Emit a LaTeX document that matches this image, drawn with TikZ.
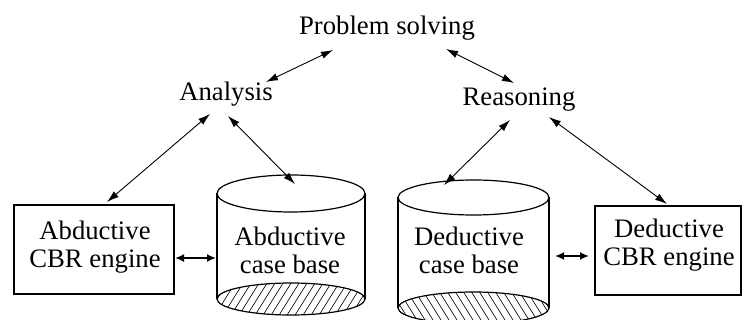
\documentclass[tikz,border=0pt]{standalone}
\usepackage{fontspec}
\setmainfont{Liberation Serif}
\usetikzlibrary{arrows.meta}
\begin{document}
\begin{tikzpicture}[x=1pt,y=-1pt,
  txt/.style={font=\fontsize{26.7}{28}\selectfont, align=center, inner sep=0pt},
  enginebox/.style={draw, line width=2pt},
  link/.style={line width=0.9pt, {Latex[length=12pt,width=7.5pt]}-{Latex[length=12pt,width=7.5pt]}},
  tight/.style={line width=2.4pt, {Latex[length=9pt,width=8pt]}-{Latex[length=9pt,width=8pt]}},
  drum/.style={line width=1.2pt},
  hatch/.style={line width=0.6pt}]
\useasboundingbox (0,0) rectangle (744,320);

% top-level labels
\node[txt] (ps)  at (387,28) {Problem solving};
\node[txt] (ana) at (226,94) {Analysis};
\node[txt] (rea) at (519,100) {Reasoning};

% abductive CBR engine
\draw[enginebox] (14,205) rectangle (174,294);
\node[txt] (aeng) at (95,247) {Abductive\\CBR engine};

% deductive CBR engine
\draw[enginebox] (595,206) rectangle (741,295);
\node[txt] (deng) at (669,245) {Deductive\\CBR engine};

% abductive case base (cylinder, hatched floor)
\begin{scope}
  \clip (291,299) ellipse [x radius=74, y radius=16];
  \foreach \x in {180,188,...,380} \draw[hatch] (\x,320) -- (\x+25,280);
\end{scope}
\draw[drum] (291,299) ellipse [x radius=74, y radius=16];
\draw[drum] (217,193.5) -- (217,299) (365,193.5) -- (365,299);
\draw[drum,fill=white] (291,193.5) ellipse [x radius=74, y radius=18.5];
\node[txt] (acb) at (290,250) {Abductive\\case base};

% deductive case base (cylinder, hatched floor)
\begin{scope}
  \clip (473.5,308) ellipse [x radius=75.5, y radius=16];
  \foreach \x in {360,368,...,560} \draw[hatch] (\x,280) -- (\x+25,320);
\end{scope}
\draw[drum] (473.5,308) ellipse [x radius=75.5, y radius=16];
\draw[drum] (398,197.5) -- (398,308) (549,197.5) -- (549,308);
\draw[drum,fill=white] (473.5,197.5) ellipse [x radius=75.5, y radius=17.5];
\node[txt] (dcb) at (469,250) {Deductive\\case base};

% connector end points
\coordinate (psL)  at (333,50);  \coordinate (anaT) at (266,82);
\coordinate (psR)  at (446,49);  \coordinate (reaT) at (514,83);
\coordinate (anaL) at (210,114); \coordinate (aengT) at (107,202);
\coordinate (anaR) at (228,116); \coordinate (acbT) at (295,184);
\coordinate (reaL) at (510,120); \coordinate (dcbT) at (444,185);
\coordinate (reaR) at (549,117); \coordinate (dengT) at (667,204);
\coordinate (aengR) at (175,258); \coordinate (acbL) at (216,258);
\coordinate (dcbR) at (555,256); \coordinate (dengL) at (589,256);

\draw[link] (psL) -- (anaT);
\draw[link] (psR) -- (reaT);
\draw[link] (anaL) -- (aengT);
\draw[link] (anaR) -- (acbT);
\draw[link] (reaL) -- (dcbT);
\draw[link] (reaR) -- (dengT);
\draw[tight] (aengR) -- (acbL);
\draw[tight] (dcbR) -- (dengL);
\end{tikzpicture}
\end{document}
